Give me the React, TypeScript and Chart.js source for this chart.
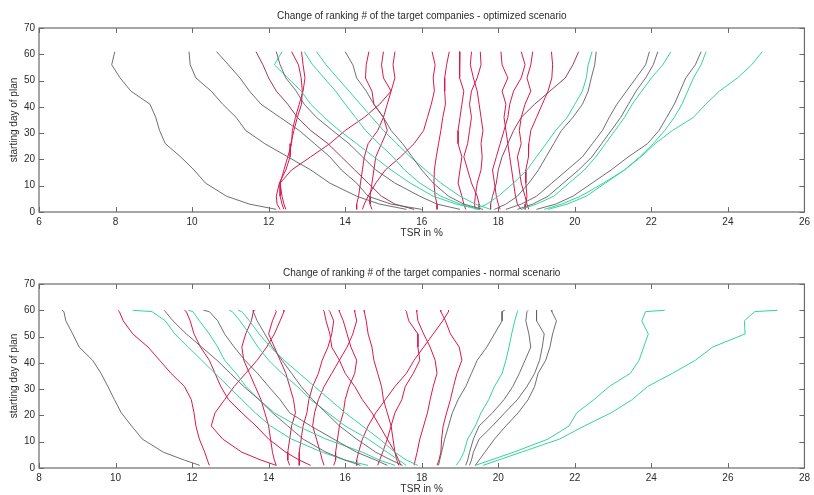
import React, { useEffect, useRef } from "react";
import { Chart, registerables } from "chart.js";

Chart.register(...registerables);

// ---------- data: top plot (optimized scenario) ----------
const TOP_DAYS = [61, 56, 51, 46, 41, 36, 31, 26, 21, 16, 11, 6, 3, 1];
const TOP_X_TICKS = [6, 8, 10, 12, 14, 16, 18, 20, 22, 24, 26];
const Y_TICKS = [0, 10, 20, 30, 40, 50, 60, 70];

const T1 = [7.98, 7.9, 8.12, 8.4, 8.9, 9.05, 9.15, 9.3, 9.7, 10.05, 10.35, 10.9, 11.5, 12.2];
const T2 = [9.92, 9.95, 10.1, 10.5, 10.8, 11.15, 11.4, 11.9, 12.5, 13.1, 13.6, 14.3, 14.9, 15.6];
const T3 = [10.64, 10.95, 11.25, 11.5, 11.8, 12.3, 12.8, 13.2, 13.6, 13.9, 14.3, 14.6, 15.2, 16.0];
const T4 = [11.67, 11.85, 12.0, 12.2, 12.5, 12.75, 13.1, 13.55, 13.9, 14.25, 14.6, 14.95, 15.3, 15.8];
const T5 = [12.2, 12.3, 12.45, 12.72, 12.93, 13.25, 13.67, 14.1, 14.45, 14.8, 15.3, 15.95, 16.4, 17.0];
const T6 = [12.35, 12.15, 12.5, 12.85, 13.1, 13.45, 13.85, 14.3, 14.75, 15.2, 15.7, 16.3, 16.9, 17.5];
const T7 = [12.93, 13.15, 13.45, 13.75, 14.0, 14.27, 14.53, 14.88, 15.25, 15.55, 15.95, 16.5, 17.0, 17.5];
const T8 = [13.25, 13.5, 13.8, 14.1, 14.4, 14.7, 15.0, 15.35, 15.7, 16.1, 16.5, 17.0, 17.4, 17.8];
const T9 = [14.0, 14.2, 14.3, 14.55, 14.75, 15.0, 15.2, 15.5, 15.75, 16.0, 16.3, 16.7, 17.1, 17.6];
const R1 = [12.6, 12.78, 12.85, 12.88, 12.86, 12.75, 12.66, 12.58, 12.56, 12.45, 12.28, 12.2, 12.22, 12.3];
const R2 = [12.86, 12.9, 12.95, 12.9, 12.8, 12.7, 12.62, 12.6, 12.5, 12.4, 12.3, 12.35, 12.4, 12.45];
const R3 = [16.27, 16.35, 16.3, 16.33, 16.25, 16.15, 16.05, 15.8, 15.45, 15.05, 14.8, 14.6, 14.5, 14.45];
const R4 = [14.62, 14.55, 14.53, 14.7, 14.75, 15.0, 15.1, 14.95, 14.8, 14.75, 14.7, 14.65, 14.65, 14.7];
const R5 = [15.3, 15.25, 15.3, 15.2, 15.1, 15.0, 14.85, 14.6, 14.5, 14.45, 14.4, 14.35, 14.3, 14.3];
const R6 = [15.0, 14.95, 15.0, 15.2, 14.9, 14.5, 14.0, 13.6, 13.1, 12.6, 12.3, 12.3, 12.35, 12.4];
const R7 = [16.72, 16.65, 16.6, 16.6, 16.62, 16.55, 16.5, 16.44, 16.38, 16.33, 16.32, 16.35, 16.4, 16.4];
const R8 = [17.0, 16.98, 17.0, 17.1, 17.05, 17.0, 16.95, 16.95, 17.05, 17.0, 16.95, 17.05, 17.1, 17.15];
const R9 = [17.3, 17.27, 17.35, 17.45, 17.5, 17.55, 17.6, 17.55, 17.58, 17.55, 17.45, 17.4, 17.38, 17.4];
const R10 = [17.53, 17.55, 17.45, 17.3, 17.25, 17.3, 17.25, 17.2, 17.1, 17.2, 17.3, 17.45, 17.5, 17.5];
const R11 = [18.07, 18.1, 18.25, 18.1, 18.2, 18.15, 18.2, 18.25, 18.3, 18.35, 18.4, 18.45, 18.5, 18.6];
const R12 = [18.6, 18.7, 18.6, 18.4, 18.3, 18.25, 18.15, 18.05, 17.95, 17.85, 17.9, 17.95, 18.0, 18.05];
const R13 = [18.9, 18.85, 18.75, 18.85, 18.7, 18.6, 18.55, 18.6, 18.5, 18.55, 18.6, 18.7, 18.75, 18.8];
const R14 = [19.39, 19.42, 19.4, 19.3, 19.15, 19.0, 18.85, 18.8, 18.79, 18.72, 18.72, 18.75, 18.72, 18.7];
const M1 = [20.1, 19.95, 19.75, 19.35, 18.95, 18.6, 18.4, 18.25, 18.1, 18.0, 17.95, 17.85, 17.8, 17.8];
const GR1 = [20.56, 20.52, 20.43, 20.35, 20.2, 19.95, 19.65, 19.45, 19.25, 19.05, 18.8, 18.5, 18.2, 17.9];
const TR1 = [20.45, 20.35, 20.3, 20.2, 20.0, 19.8, 19.5, 19.25, 19.0, 18.75, 18.4, 18.0, 17.7, 17.4];
const GR2 = [21.95, 21.85, 21.6, 21.35, 21.1, 20.9, 20.72, 20.46, 20.2, 19.8, 19.4, 19.0, 18.6, 18.2];
const GR3 = [22.17, 22.05, 21.85, 21.6, 21.4, 21.2, 20.95, 20.7, 20.45, 20.1, 19.7, 19.3, 18.9, 18.5];
const GR4 = [22.51, 22.3, 22.0, 21.75, 21.5, 21.3, 21.05, 20.8, 20.55, 20.25, 19.85, 19.45, 19.0, 18.6];
const GR5 = [23.3, 23.15, 22.9, 22.75, 22.6, 22.4, 22.2, 21.9, 21.4, 20.95, 20.45, 19.95, 19.5, 19.0];
const TR2 = [23.43, 23.3, 23.1, 22.95, 22.8, 22.6, 22.35, 22.05, 21.7, 21.3, 20.8, 20.3, 19.8, 19.3];
const TR3 = [24.9, 24.62, 24.25, 23.78, 23.42, 23.1, 22.55, 22.1, 21.73, 21.3, 20.75, 20.15, 19.65, 19.2];

// ---------- data: bottom plot (normal scenario) ----------
const BOTTOM_DAYS = [60, 59.5, 56, 51, 46, 41, 36, 31, 26, 21, 16, 11, 6, 3, 1];
const BOTTOM_X_TICKS = [8, 10, 12, 14, 16, 18, 20, 22, 24, 26, 28];

const BL1 = [8.6, 8.65, 8.7, 8.88, 9.05, 9.4, 9.62, 9.8, 9.97, 10.15, 10.42, 10.7, 11.25, 11.8, 12.2];
const BL2 = [10.06, 10.1, 10.2, 10.45, 10.85, 11.15, 11.45, 11.8, 11.98, 12.05, 12.1, 12.19, 12.33, 12.4, 12.45];
const BL3 = [11.8, 11.85, 11.95, 12.05, 12.22, 12.45, 12.6, 12.75, 12.95, 13.3, 13.67, 14.0, 14.45, 14.8, 15.1];
const BL4 = [10.45, 10.95, 11.3, 11.55, 11.9, 12.25, 12.6, 12.95, 13.3, 13.65, 14.05, 14.6, 15.4, 16.0, 16.6];
const BG1 = [11.27, 11.3, 11.5, 11.85, 12.25, 12.65, 13.0, 13.35, 13.75, 14.1, 14.5, 14.9, 15.5, 16.0, 16.4];
const BT1 = [11.9, 12.02, 12.19, 12.45, 12.67, 12.85, 13.15, 13.41, 13.75, 14.15, 14.75, 15.5, 16.45, 16.9, 17.3];
const BG2 = [12.3, 12.45, 12.67, 12.85, 13.1, 13.38, 13.71, 14.0, 14.3, 14.55, 15.1, 15.7, 16.3, 16.8, 17.1];
const BT2 = [12.97, 13.05, 13.25, 13.5, 13.72, 14.0, 14.35, 14.75, 15.1, 15.55, 16.0, 16.6, 17.1, 17.4, 17.6];
const BT3 = [13.2, 13.3, 13.5, 13.75, 14.05, 14.4, 14.8, 15.2, 15.6, 16.0, 16.45, 16.9, 17.3, 17.6, 17.9];
const BG3 = [13.65, 13.6, 13.7, 13.9, 14.1, 14.35, 14.6, 14.85, 15.15, 15.5, 15.85, 16.3, 16.8, 17.2, 17.5];
const BR6 = [14.17, 14.2, 14.1, 14.0, 14.15, 14.3, 14.45, 14.55, 14.65, 14.7, 14.6, 14.55, 14.5, 14.5, 14.55];
const BR7 = [14.39, 14.4, 14.3, 14.15, 13.95, 13.7, 13.4, 13.1, 12.85, 12.6, 12.5, 12.8, 13.3, 13.8, 14.2];
const BR8 = [13.6, 13.6, 13.55, 13.4, 13.3, 13.35, 13.5, 13.65, 13.8, 13.9, 14.0, 14.05, 14.1, 14.15, 14.2];
const BC5 = [15.43, 15.45, 15.5, 15.6, 15.65, 15.85, 16.0, 16.25, 16.45, 16.7, 16.9, 17.1, 17.3, 17.4, 17.45];
const BC6 = [15.57, 15.6, 15.7, 15.65, 15.55, 15.4, 15.3, 15.15, 15.05, 15.0, 14.9, 14.85, 14.8, 14.8, 14.8];
const BC7 = [15.84, 15.85, 15.95, 16.05, 16.15, 16.3, 16.25, 16.1, 16.0, 15.95, 15.85, 15.8, 15.75, 15.75, 15.7];
const BC8 = [16.24, 16.25, 16.3, 16.2, 16.05, 15.85, 15.65, 15.45, 15.3, 15.2, 15.15, 15.25, 15.35, 15.4, 15.45];
const BC9 = [16.5, 16.5, 16.55, 16.6, 16.7, 16.75, 16.85, 16.95, 17.0, 17.1, 17.2, 17.25, 17.3, 17.35, 17.4];
const BC1 = [17.57, 17.6, 17.66, 17.9, 17.9, 17.95, 17.78, 17.57, 17.48, 17.3, 17.2, 17.1, 16.98, 16.9, 16.85];
const BC2 = [17.87, 17.87, 17.9, 18.05, 18.22, 18.35, 18.4, 18.3, 18.22, 18.15, 18.05, 17.95, 17.88, 17.83, 17.8];
const BC3 = [18.49, 18.5, 18.62, 18.75, 18.98, 19.05, 18.92, 18.83, 18.75, 18.65, 18.56, 18.52, 18.5, 18.45, 18.4];
const BC4 = [18.7, 18.7, 18.55, 18.3, 18.05, 17.8, 17.6, 17.3, 17.05, 16.8, 16.6, 16.45, 16.35, 16.3, 16.3];
const BR1 = [20.17, 20.1, 20.1, 19.9, 19.7, 19.45, 19.3, 19.15, 18.95, 18.8, 18.7, 18.6, 18.52, 18.47, 18.44];
const BR2 = [20.52, 20.5, 20.43, 20.35, 20.28, 20.2, 20.1, 19.9, 19.75, 19.55, 19.4, 19.2, 19.1, 19.0, 18.9];
const BR3 = [20.78, 20.75, 20.72, 20.8, 20.85, 20.7, 20.55, 20.38, 20.15, 19.85, 19.5, 19.35, 19.25, 19.2, 19.15];
const BR4 = [21.0, 21.0, 21.0, 21.2, 21.15, 21.08, 20.95, 20.75, 20.5, 20.17, 19.85, 19.5, 19.35, 19.3, 19.25];
const BR5 = [21.38, 21.4, 21.52, 21.42, 21.35, 21.24, 21.04, 20.95, 20.78, 20.52, 20.2, 19.9, 19.65, 19.5, 19.4];
const TA = [24.35, 23.85, 23.75, 23.92, 23.8, 23.68, 23.45, 22.9, 22.5, 22.05, 21.85, 21.3, 20.4, 19.8, 19.4];
const TB = [27.3, 26.7, 26.43, 26.45, 25.6, 25.15, 24.55, 23.9, 23.5, 22.95, 22.25, 21.6, 20.6, 20.0, 19.6];

// ---------- styles ----------
const GREY = "rgba(95,95,95,0.9)";
const RED = "#d8184c";
const TEAL = "#33d3a0";
const MAROON = "#9c3a5c";
const AXIS = "#6a6a6a";
const TEXT = "#2b2b2b";
const FONT = '"Liberation Sans", Arial, sans-serif';

const TOP_SERIES: [number[], string][] = [
  [T1, GREY], [T2, GREY], [T3, GREY], [T5, GREY], [T9, GREY],
  [GR1, GREY], [GR2, GREY], [GR3, GREY], [GR5, GREY],
  [T6, TEAL], [T7, TEAL], [T8, TEAL], [TR1, TEAL], [GR4, TEAL], [TR2, TEAL], [TR3, TEAL],
  [T4, MAROON], [M1, MAROON],
  [R1, RED], [R2, RED], [R3, RED], [R4, RED], [R5, RED], [R6, RED], [R7, RED],
  [R8, RED], [R9, RED], [R10, RED], [R11, RED], [R12, RED], [R13, RED], [R14, RED],
];

const BOTTOM_SERIES: [number[], string][] = [
  [BL1, GREY], [BG1, GREY], [BG2, GREY], [BG3, GREY],
  [BR1, GREY], [BR3, GREY], [BR4, GREY], [BR5, GREY],
  [BL4, TEAL], [BT1, TEAL], [BT2, TEAL], [BT3, TEAL], [BR2, TEAL], [TA, TEAL], [TB, TEAL],
  [BL2, RED], [BL3, RED], [BR6, RED], [BR7, RED], [BR8, RED],
  [BC5, RED], [BC6, RED], [BC7, RED], [BC8, RED], [BC9, RED],
  [BC1, RED], [BC2, RED], [BC3, RED], [BC4, RED],
];

type PanelSpec = {
  title: string;
  days: number[];
  series: [number[], string][];
  xMin: number;
  xMax: number;
  xTicks: number[];
  height: number;
  padTop: number;
  xAxisH: number;
  titleY: number;
  xTitleY: number;
};

function framePlugin(spec: PanelSpec) {
  return {
    id: "frame",
    afterDatasetsDraw(chart: any) {
      const { ctx, chartArea: a, scales } = chart;
      ctx.save();
      ctx.strokeStyle = AXIS;
      ctx.lineWidth = 1.2;
      ctx.strokeRect(a.left, a.top, a.right - a.left, a.bottom - a.top);
      ctx.lineWidth = 1;
      ctx.beginPath();
      for (const v of spec.xTicks) {
        const px = Math.round(scales.x.getPixelForValue(v)) + 0.5;
        ctx.moveTo(px, a.bottom);
        ctx.lineTo(px, a.bottom - 5);
        ctx.moveTo(px, a.top);
        ctx.lineTo(px, a.top + 5);
      }
      for (const v of Y_TICKS) {
        const py = Math.round(scales.y.getPixelForValue(v)) + 0.5;
        ctx.moveTo(a.left, py);
        ctx.lineTo(a.left + 5, py);
        ctx.moveTo(a.right, py);
        ctx.lineTo(a.right - 5, py);
      }
      ctx.stroke();
      ctx.fillStyle = TEXT;
      ctx.font = `10px ${FONT}`;
      ctx.textAlign = "center";
      ctx.textBaseline = "middle";
      const cx = (a.left + a.right) / 2;
      ctx.fillText(spec.title, cx, spec.titleY);
      ctx.fillText("TSR in %", cx, spec.xTitleY);
      ctx.translate(14, (a.top + a.bottom) / 2);
      ctx.rotate(-Math.PI / 2);
      ctx.fillText("starting day of plan", 0, 0);
      ctx.restore();
    },
  };
}

function Panel({ spec, top }: { spec: PanelSpec; top: number }) {
  const ref = useRef<HTMLCanvasElement | null>(null);
  useEffect(() => {
    if (!ref.current) return;
    const datasets = spec.series.map(([xs, color]) => ({
      data: xs.map((x, i) => ({ x, y: spec.days[i] })),
      borderColor: color,
      backgroundColor: color,
      borderWidth: 1,
      showLine: true,
      pointRadius: 0,
      tension: 0,
    }));
    const tickFont = { family: FONT, size: 10 };
    const chart = new Chart(ref.current, {
      type: "scatter",
      data: { datasets },
      options: {
        animation: false,
        responsive: false,
        maintainAspectRatio: false,
        layout: { padding: { left: 0, right: 7, top: spec.padTop, bottom: 0 } },
        plugins: { legend: { display: false }, tooltip: { enabled: false }, title: { display: false } },
        scales: {
          x: {
            type: "linear",
            min: spec.xMin,
            max: spec.xMax,
            afterBuildTicks: (s: any) => {
              s.ticks = spec.xTicks.map((v) => ({ value: v }));
            },
            ticks: { font: tickFont, color: TEXT, padding: 4, maxRotation: 0, autoSkip: false },
            grid: { display: false, drawTicks: false },
            border: { display: false },
            afterFit: (s: any) => {
              s.height = spec.xAxisH;
            },
          },
          y: {
            type: "linear",
            min: 0,
            max: 70,
            afterBuildTicks: (s: any) => {
              s.ticks = Y_TICKS.map((v) => ({ value: v }));
            },
            ticks: { font: tickFont, color: TEXT, padding: 4, autoSkip: false },
            grid: { display: false, drawTicks: false },
            border: { display: false },
            afterFit: (s: any) => {
              s.width = 39;
            },
          },
        },
      },
      plugins: [framePlugin(spec)],
    } as any);
    return () => chart.destroy();
  }, [spec]);
  return (
    <canvas
      ref={ref}
      width={814}
      height={spec.height}
      style={{ position: "absolute", left: 0, top, width: 814, height: spec.height, display: "block" }}
    />
  );
}

const TOP_SPEC: PanelSpec = {
  title: "Change of ranking # of the target companies - optimized scenario",
  days: TOP_DAYS,
  series: TOP_SERIES,
  xMin: 6,
  xMax: 26,
  xTicks: TOP_X_TICKS,
  height: 250,
  padTop: 28,
  xAxisH: 38,
  titleY: 16,
  xTitleY: 233,
};

const BOTTOM_SPEC: PanelSpec = {
  title: "Change of ranking # of the target companies - normal scenario",
  days: BOTTOM_DAYS,
  series: BOTTOM_SERIES,
  xMin: 8,
  xMax: 28,
  xTicks: BOTTOM_X_TICKS,
  height: 245,
  padTop: 34,
  xAxisH: 27,
  titleY: 23,
  xTitleY: 239,
};

export default function App() {
  return (
    <div style={{ position: "fixed", left: 0, top: 0, width: 814, height: 495, background: "#fff", overflow: "hidden" }}>
      <Panel spec={TOP_SPEC} top={0} />
      <Panel spec={BOTTOM_SPEC} top={250} />
    </div>
  );
}
